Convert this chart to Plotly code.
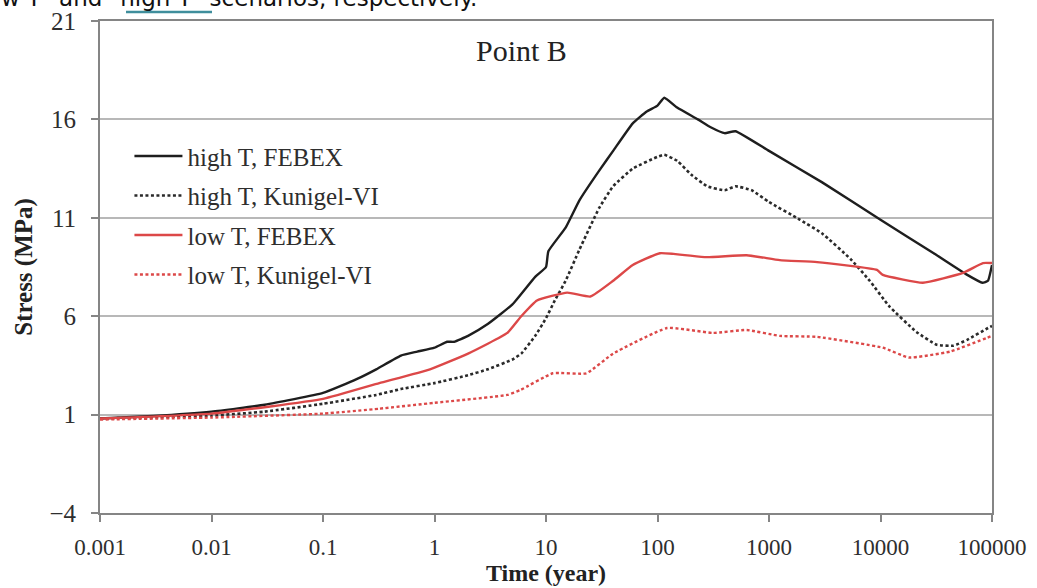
import plotly.graph_objects as go

# ---------------- data ----------------
t_hf = [0.001, 0.003, 0.01, 0.03, 0.1, 0.2, 0.3, 0.5, 0.7, 1, 1.3, 1.5, 2, 3, 5, 8, 10, 10.5,
        15, 20, 30, 40, 60, 80, 100, 115, 150, 230, 300, 400, 500, 1000, 3000, 10000,
        30000, 60000, 82000, 92000, 100000]
s_hf = [0.8, 0.93, 1.15, 1.5, 2.1, 2.8, 3.3, 4.0, 4.2, 4.4, 4.7, 4.7, 5.0, 5.6, 6.6, 8.0, 8.5, 9.3,
        10.5, 11.9, 13.4, 14.4, 15.8, 16.4, 16.7, 17.1, 16.6, 16.0, 15.6, 15.3, 15.4, 14.4, 12.8, 10.9,
        9.2, 8.1, 7.7, 7.8, 8.6]

t_hk = [0.001, 0.01, 0.03, 0.1, 0.3, 0.5, 1, 2, 3, 5, 6, 8, 10, 12, 15, 20, 30, 40, 60, 100, 115,
        150, 200, 280, 400, 500, 700, 1000, 1900, 3000, 5400, 8000, 12000, 21000, 32000, 45000,
        60000, 92000, 100000]
s_hk = [0.8, 0.95, 1.15, 1.55, 2.0, 2.3, 2.6, 3.0, 3.3, 3.8, 4.1, 5.0, 5.9, 6.8, 7.8, 9.4, 11.5, 12.6,
        13.5, 14.1, 14.2, 13.9, 13.2, 12.6, 12.4, 12.6, 12.4, 11.8, 10.9, 10.2, 8.9, 7.8, 6.5, 5.2,
        4.55, 4.5, 4.8, 5.4, 5.5]

t_lf = [0.001, 0.01, 0.1, 0.32, 0.91, 2, 4.5, 6, 8.3, 15.5, 25, 40, 60, 105, 275, 630, 1250,
        2700, 9300, 10500, 24000, 55000, 83000, 100000]
s_lf = [0.8, 1.05, 1.8, 2.6, 3.3, 4.1, 5.15, 6.0, 6.8, 7.2, 7.0, 7.8, 8.6, 9.2, 9.0, 9.1, 8.85,
        8.75, 8.35, 8.1, 7.7, 8.2, 8.7, 8.7]

t_lk = [0.001, 0.01, 0.1, 0.32, 1, 4.5, 5.9, 11.5, 23, 40, 122, 315, 630, 1250, 2700, 10500,
        18000, 42000, 90000, 100000]
s_lk = [0.75, 0.85, 1.05, 1.3, 1.6, 2.0, 2.25, 3.1, 3.1, 4.1, 5.4, 5.15, 5.3, 5.0, 4.95, 4.4,
        3.9, 4.2, 4.9, 5.0]

x_ticks = [0.001, 0.01, 0.1, 1, 10, 100, 1000, 10000, 100000]
x_tick_text = ["0.001", "0.01", "0.1", "1", "10", "100", "1000", "10000", "100000"]
y_ticks = [-4, 1, 6, 11, 16, 21]

names = ["high T, FEBEX", "high T, Kunigel-VI", "low T, FEBEX", "low T, Kunigel-VI"]

# ---------------- figure ----------------
BLACK = "#1e1e1e"
RED = "#dc4848"
SERIF = "Liberation Serif, Times New Roman, serif"
TXT = "#2e2e2e"

fig = go.Figure()
series = [
    (t_hf, s_hf, names[0], BLACK, "solid", 2.4),
    (t_hk, s_hk, names[1], "#2a2a2a", "3px,2.5px", 2.6),
    (t_lf, s_lf, names[2], RED, "solid", 2.4),
    (t_lk, s_lk, names[3], RED, "3px,2.5px", 2.4),
]
for i, (tx, sy, nm, col, dash, w) in enumerate(series):
    fig.add_trace(go.Scatter(x=tx, y=sy, mode="lines", name=nm, legendgroup=f"g{i}",
                             line=dict(color=col, dash=dash, width=w, shape="spline", smoothing=0.4)))

fig.update_layout(
    width=1037, height=588,
    margin=dict(l=100, r=45, t=21, b=75),
    paper_bgcolor="white", plot_bgcolor="white",
    font=dict(family=SERIF, color=TXT, size=24),
    showlegend=True,
    legend=dict(x=0.033, y=0.772, xanchor="left", yanchor="top",
                bgcolor="rgba(0,0,0,0)", font=dict(family=SERIF, size=25, color=TXT),
                traceorder="grouped", tracegroupgap=4, itemwidth=48),
    annotations=[
        dict(text="Point B", x=0.473, y=(513 - 50) / 492, xref="paper", yref="paper",
             xanchor="center", yanchor="middle", showarrow=False,
             font=dict(family=SERIF, size=30, color="#222222")),
        dict(text='w T" and "high T" scenarios, respectively.', x=0, y=1, xref="paper",
             yref="paper", xanchor="left", yanchor="middle", xshift=-101, yshift=23,
             showarrow=False, font=dict(family="DejaVu Sans, sans-serif", size=23, color="#111111")),
    ],
    shapes=[
        dict(type="line", xref="paper", yref="paper",
             x0=(126 - 100) / 892, x1=(212 - 100) / 892,
             y0=(513 - 12) / 492, y1=(513 - 12) / 492,
             line=dict(color="#3f8e9c", width=2.5)),
    ],
)

fig.update_xaxes(
    type="log", range=[-3, 5], automargin=False,
    tickvals=x_ticks, ticktext=x_tick_text,
    showgrid=False, zeroline=False,
    showline=True, linecolor="#858585", linewidth=2, mirror=True,
    ticks="outside", ticklen=7, tickcolor="#858585", tickwidth=1.5,
    ticklabelstandoff=5,
    tickfont=dict(family=SERIF, size=23, color=TXT),
    title=dict(text="<b>Time (year)</b>", font=dict(family=SERIF, size=24, color="#222222"),
               standoff=2),
)
fig.update_yaxes(
    range=[-4, 21], tickvals=y_ticks, automargin=False,
    showgrid=True, gridcolor="#b8b8b8", gridwidth=1.5, zeroline=False,
    showline=True, linecolor="#858585", linewidth=2, mirror=True,
    ticks="outside", ticklen=7, tickcolor="#858585", tickwidth=1.5,
    ticklabelstandoff=10,
    tickfont=dict(family=SERIF, size=25, color=TXT),
    title=dict(text="<b>Stress (MPa)</b>", font=dict(family=SERIF, size=25, color="#222222"),
               standoff=10),
)

fig.write_html("out.html")
